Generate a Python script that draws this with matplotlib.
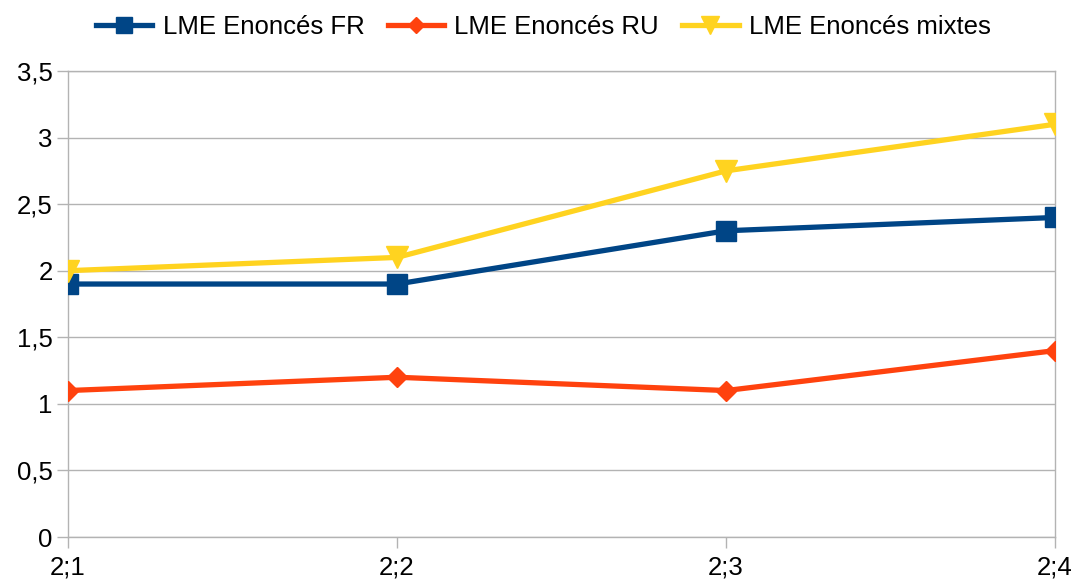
import matplotlib
matplotlib.use("Agg")
import matplotlib.pyplot as plt
from matplotlib.ticker import FuncFormatter

plt.rcParams['font.family'] = ['Liberation Sans', 'DejaVu Sans']

categories = ["2;1", "2;2", "2;3", "2;4"]
fr_values = [1.9, 1.9, 2.3, 2.4]
ru_values = [1.1, 1.2, 1.1, 1.4]
mixed_values = [2.0, 2.1, 2.75, 3.1]
series_names = ["LME Enoncés FR", "LME Enoncés RU", "LME Enoncés mixtes"]

fig = plt.figure(figsize=(10.76, 5.80), dpi=100)
ax = fig.add_axes([0.0632, 0.0741, 0.9173, 0.8035])

x = list(range(len(categories)))
ax.plot(x, fr_values, color="#004586", lw=3.8, marker="s", ms=14.5, label=series_names[0], zorder=3)
ax.plot(x, ru_values, color="#ff420e", lw=3.8, marker="D", ms=10, label=series_names[1], zorder=3)
ax.plot(x, mixed_values, color="#ffd320", lw=3.8, marker="v", ms=16, label=series_names[2], zorder=3)

ax.set_xlim(0, 3)
ax.set_ylim(0, 3.5)
ax.set_yticks([0, 0.5, 1, 1.5, 2, 2.5, 3, 3.5])
ax.yaxis.set_major_formatter(FuncFormatter(lambda v, p: (f"{v:g}").replace(".", ",")))
ax.set_xticks(x)
ax.set_xticklabels(categories)
ax.grid(axis="y", color="#b3b3b3", lw=1)
ax.set_axisbelow(True)
for s in ax.spines.values():
    s.set_color("#b3b3b3")
    s.set_linewidth(1)
ax.tick_params(axis="both", colors="#b3b3b3", labelcolor="black", labelsize=18.5, width=1)
ax.tick_params(axis="x", length=8, pad=5)
ax.tick_params(axis="y", length=8, pad=3)
for lab in ax.get_xticklabels():
    lab.set_clip_on(False)

leg = fig.legend(loc="upper center", bbox_to_anchor=(0.505, 1.0), ncol=3, frameon=False,
                 fontsize=18.5, handlelength=2.2, handletextpad=0.4, columnspacing=0.9,
                 borderaxespad=0.2, markerscale=0.8)

fig.savefig("out.png", dpi=100)
